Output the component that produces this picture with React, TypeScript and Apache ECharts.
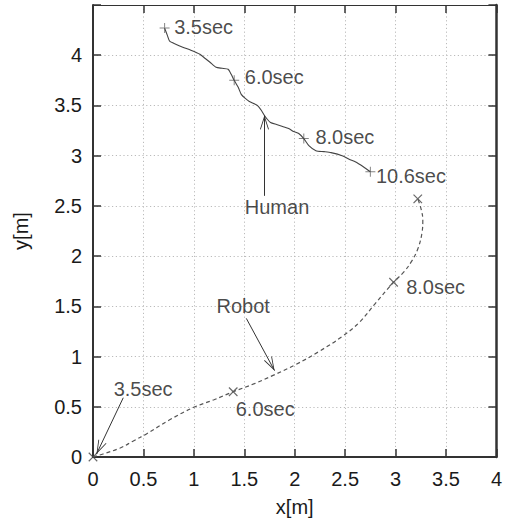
import React, { useEffect, useRef } from "react";
import * as echarts from "echarts";

const xTicks = [0, 0.5, 1, 1.5, 2, 2.5, 3, 3.5, 4];
const yTicks = [0, 0.5, 1, 1.5, 2, 2.5, 3, 3.5, 4];

const humanX = [0.71, 0.74, 0.76, 0.82, 0.89, 0.97, 1.06, 1.11, 1.16, 1.22, 1.28, 1.34, 1.37, 1.40, 1.44, 1.47, 1.51, 1.55, 1.63, 1.67, 1.70, 1.73, 1.76, 1.82, 1.88, 1.94, 1.99, 2.04, 2.09, 2.14, 2.21, 2.29, 2.36, 2.47, 2.55, 2.60, 2.68, 2.75];
const humanY = [4.27, 4.19, 4.14, 4.11, 4.08, 4.05, 4.01, 3.97, 3.93, 3.88, 3.87, 3.86, 3.81, 3.75, 3.68, 3.61, 3.57, 3.54, 3.50, 3.45, 3.40, 3.36, 3.33, 3.31, 3.29, 3.27, 3.24, 3.22, 3.17, 3.10, 3.05, 3.04, 3.03, 3.00, 2.96, 2.94, 2.89, 2.84];

const robotX = [0, 0.1, 0.27, 0.4, 0.53, 0.76, 0.99, 1.2, 1.39, 1.6, 1.78, 2.01, 2.24, 2.47, 2.64, 2.8, 2.98, 3.08, 3.16, 3.22, 3.26, 3.27, 3.25, 3.22];
const robotY = [0, 0.03, 0.09, 0.16, 0.23, 0.37, 0.49, 0.57, 0.65, 0.73, 0.81, 0.92, 1.05, 1.2, 1.34, 1.53, 1.74, 1.84, 1.95, 2.07, 2.22, 2.36, 2.48, 2.57];

const humanMarkX = [0.71, 1.40, 2.09, 2.75];
const humanMarkY = [4.27, 3.75, 3.17, 2.84];
const robotMarkX = [0, 1.39, 2.98, 3.22];
const robotMarkY = [0, 0.65, 1.74, 2.57];

const labelText = ["3.5sec", "6.0sec", "8.0sec", "10.6sec", "Human", "Robot", "3.5sec", "6.0sec", "8.0sec"];
const labelX = [0.80, 1.50, 2.20, 2.80, 1.50, 1.22, 0.20, 1.41, 3.10];
const labelY = [4.28, 3.78, 3.19, 2.80, 2.49, 1.50, 0.68, 0.48, 1.69];

const arrowFrom = [[1.70, 2.60], [1.52, 1.38], [0.30, 0.59]];
const arrowTo = [[1.70, 3.40], [1.80, 0.86], [0.035, 0.03]];

const FONT = "Liberation Sans, Arial, Helvetica, sans-serif";
const TXT = "#1a1a1a";

const PLUS = "path://M4.5,0 L5.5,0 L5.5,4.5 L10,4.5 L10,5.5 L5.5,5.5 L5.5,10 L4.5,10 L4.5,5.5 L0,5.5 L0,4.5 L4.5,4.5 Z";
const HEAD = "path://M-0.01,0 L0.01,0 L0,0.01 Z M0,14 L4.5,28 L3.7,28.3 L0,16.8 L-3.7,28.3 L-4.5,28 Z";

export default function App() {
  const ref = useRef<HTMLDivElement>(null);
  useEffect(() => {
    if (!ref.current) return;
    const chart = echarts.init(ref.current, undefined, { renderer: "svg" });
    const human = humanX.map((x, i) => [x, humanY[i]]);
    const robot = robotX.map((x, i) => [x, robotY[i]]);
    const hm = humanMarkX.map((x, i) => [x, humanMarkY[i]]);
    const rm = robotMarkX.map((x, i) => [x, robotMarkY[i]]);
    const labels = labelText.map((t, i) => ({ name: t, value: [labelX[i], labelY[i]] }));
    const arrows = arrowFrom.map((f, i) => [{ coord: f }, { coord: arrowTo[i] }]);

    const axisCommon = {
      type: "value" as const,
      interval: 0.5,
      axisTick: { show: true, inside: true, length: 8, lineStyle: { color: "#333", width: 1.5 } },
    };

    chart.setOption({
      animation: false,
      backgroundColor: "#fff",
      grid: { left: 93, right: 7, top: 5, bottom: 64, containLabel: false },
      xAxis: [
        {
          ...axisCommon,
          min: 0,
          max: 4,
          position: "bottom",
          name: "x[m]",
          nameLocation: "middle",
          nameGap: 40,
          nameTextStyle: { fontFamily: FONT, fontSize: 20, color: TXT },
          axisLine: { show: true, onZero: false, lineStyle: { color: "#333", width: 2 } },
          axisLabel: { show: true, margin: 12, fontFamily: FONT, fontSize: 20, color: TXT,
            formatter: (v: number) => (xTicks.includes(v) ? String(v) : "") },
          splitLine: { show: true, lineStyle: { color: "#bbb", width: 1, type: [1.2, 2.6] } },
        },
        {
          ...axisCommon,
          min: 0,
          max: 4,
          position: "top",
          axisLine: { show: true, onZero: false, lineStyle: { color: "#333", width: 1.2 } },
          axisLabel: { show: false },
          splitLine: { show: false },
        },
      ],
      yAxis: [
        {
          ...axisCommon,
          min: 0,
          max: 4.5,
          position: "left",
          name: "y[m]",
          nameLocation: "middle",
          nameGap: 62,
          nameTextStyle: { fontFamily: FONT, fontSize: 20, color: TXT },
          axisLine: { show: true, onZero: false, lineStyle: { color: "#333", width: 2 } },
          axisLabel: { show: true, margin: 11, fontFamily: FONT, fontSize: 20, color: TXT,
            formatter: (v: number) => (yTicks.includes(v) ? String(v) : "") },
          splitLine: { show: true, lineStyle: { color: "#bbb", width: 1, type: [1.2, 2.6] } },
        },
        {
          ...axisCommon,
          min: 0,
          max: 4.5,
          position: "right",
          axisLine: { show: true, onZero: false, lineStyle: { color: "#333", width: 2.5 } },
          axisLabel: { show: false },
          splitLine: { show: false },
        },
      ],
      series: [
        {
          type: "line",
          name: "Human",
          data: human,
          xAxisIndex: 0,
          yAxisIndex: 0,
          showSymbol: false,
          symbol: "none",
          smooth: 0.2,
          lineStyle: { color: "#444", width: 1.1 },
          markLine: {
            silent: true,
            symbol: ["none", HEAD],
            symbolSize: [9, 28],
            label: { show: false },
            lineStyle: { color: "#333", width: 1, type: "solid" },
            data: arrows,
          },
        },
        {
          type: "line",
          name: "Robot",
          data: robot,
          xAxisIndex: 0,
          yAxisIndex: 0,
          showSymbol: false,
          symbol: "none",
          smooth: 0.4,
          lineStyle: { color: "#555", width: 1.2, type: [4, 3] },
        },
        {
          type: "scatter",
          data: hm,
          xAxisIndex: 0,
          yAxisIndex: 0,
          symbol: PLUS,
          symbolSize: 10,
          itemStyle: { color: "#666" },
        },
        {
          type: "scatter",
          data: rm,
          xAxisIndex: 0,
          yAxisIndex: 0,
          symbol: PLUS,
          symbolSize: 12,
          symbolRotate: 45,
          itemStyle: { color: "#444" },
        },
        {
          type: "scatter",
          data: labels,
          xAxisIndex: 0,
          yAxisIndex: 0,
          symbol: "circle",
          symbolSize: 1,
          itemStyle: { color: "rgba(0,0,0,0)" },
          label: {
            show: true,
            position: "right",
            distance: 0,
            formatter: "{b}",
            fontFamily: FONT,
            fontSize: 20,
            color: TXT,
          },
        },
      ],
    });
    return () => chart.dispose();
  }, []);
  return (
    <div
      ref={ref}
      style={{ position: "fixed", left: 0, top: 0, width: 505, height: 522, background: "#fff" }}
    />
  );
}
